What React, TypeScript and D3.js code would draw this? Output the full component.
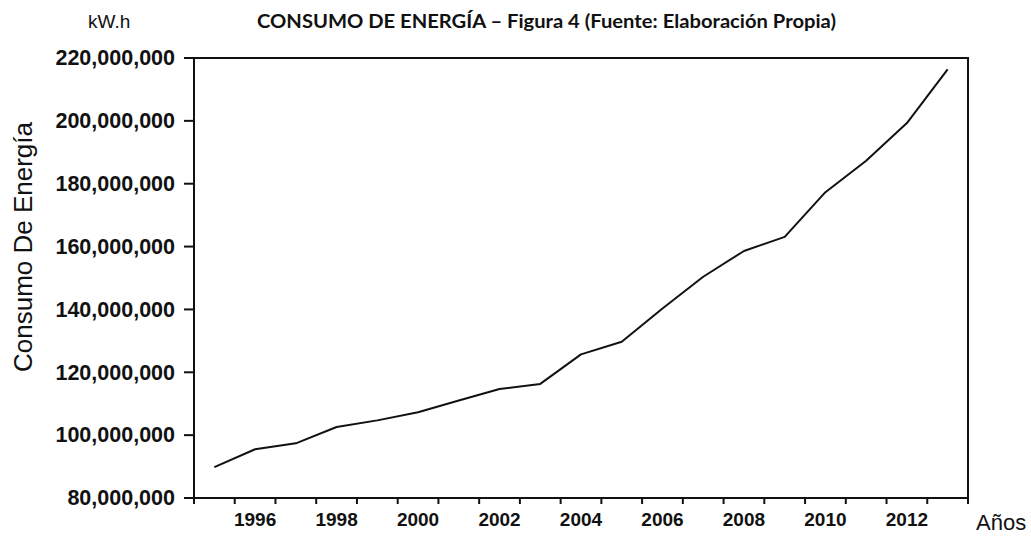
import React from "react";
import * as d3 from "d3";

const years = [1995, 1996, 1997, 1998, 1999, 2000, 2001, 2002, 2003, 2004, 2005, 2006, 2007, 2008, 2009, 2010, 2011, 2012, 2013];
const consumo = [89.8, 95.5, 97.4, 102.6, 104.7, 107.3, 111.0, 114.7, 116.3, 125.7, 129.7, 140.3, 150.4, 158.6, 163.1, 177.3, 187.3, 199.3, 216.4].map((v) => v * 1e6);
const yTicks = [80e6, 100e6, 120e6, 140e6, 160e6, 180e6, 200e6, 220e6];
const xLabelYears = [1996, 1998, 2000, 2002, 2004, 2006, 2008, 2010, 2012];
const xTickYears = d3.range(1995, 2015);

const title = "CONSUMO DE ENERGÍA – Figura 4 (Fuente: Elaboración Propia)";
const unitLabel = "kW.h";
const yTitle = "Consumo De Energía";
const xTitle = "Años";

export default function App() {
  const W = 1031, H = 536;
  const left = 194, right = 968, top = 58, bottom = 498;
  const x = d3.scaleLinear().domain([1995, 2014]).range([left, right]);
  const y = d3.scaleLinear().domain([80e6, 220e6]).range([bottom, top]);
  const line = d3.line<number>().x((_, i) => x(years[i] + 0.5)).y((d) => y(d));
  const fmt = d3.format(",");
  const tickFont = "'Liberation Sans', Arial, sans-serif";
  return (
    <svg width={W} height={H} style={{ position: "absolute", left: 0, top: 0, background: "#fff" }}>
      <rect x={0} y={0} width={W} height={H} fill="#fff" />
      <text x={88} y={28} fontFamily={tickFont} fontSize={19} fill="#111">{unitLabel}</text>
      <text x={257} y={28} fontFamily="Lato, 'Open Sans', sans-serif" fontWeight="bold" fontSize={19.5} fill="#111" textLength={579} lengthAdjust="spacingAndGlyphs">{title}</text>
      {/* frame */}
      <rect x={left} y={top} width={right - left} height={bottom - top} fill="none" stroke="#111" strokeWidth={2} />
      {/* y ticks */}
      {yTicks.map((t) => (
        <g key={t}>
          <line x1={left - 10} x2={left} y1={y(t)} y2={y(t)} stroke="#111" strokeWidth={2} />
          <text x={175} y={y(t)} dy="0.34em" textAnchor="end" fontFamily={tickFont} fontWeight="bold" fontSize={21.5} fill="#111">{fmt(t)}</text>
        </g>
      ))}
      {/* x ticks */}
      {xTickYears.map((yr) => (
        <line key={yr} x1={x(yr)} x2={x(yr)} y1={bottom} y2={bottom + 6} stroke="#111" strokeWidth={2} />
      ))}
      {xLabelYears.map((yr) => (
        <text key={yr} x={x(yr + 0.5)} y={526} textAnchor="middle" fontFamily={tickFont} fontWeight="bold" fontSize={19} fill="#111">{yr}</text>
      ))}
      <text x={976} y={530} fontFamily={tickFont} fontSize={22} fill="#111">{xTitle}</text>
      <text transform={`translate(32,247) rotate(-90)`} textAnchor="middle" fontFamily={tickFont} fontSize={26} fill="#111">{yTitle}</text>
      <path d={line(consumo) || ""} fill="none" stroke="#111" strokeWidth={2} strokeLinejoin="round" />
    </svg>
  );
}
